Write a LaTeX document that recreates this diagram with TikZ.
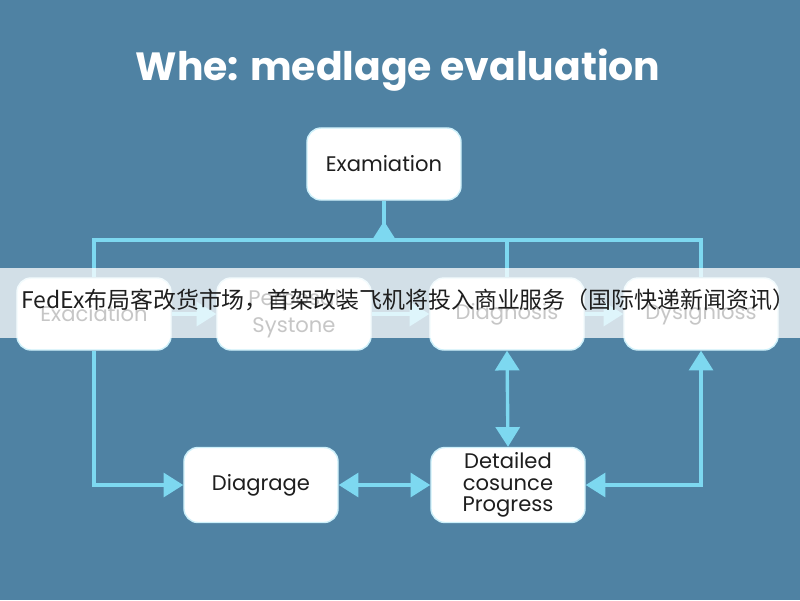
\documentclass[tikz,border=0pt]{standalone}
\usepackage{fontspec}
\setmainfont{Poppins}
\newfontfamily\cjk{Noto Sans CJK SC}
\usetikzlibrary{positioning, arrows.meta, calc}
\definecolor{bgblue}{RGB}{79,130,163}
\definecolor{flowcyan}{RGB}{125,216,240}
\definecolor{boxedge}{RGB}{205,240,250}
\definecolor{inkgrey}{RGB}{30,30,30}
\tikzset{
    stepbox/.style={rectangle, rounded corners=10pt, draw=boxedge, line width=1pt, fill=white, minimum width=3.85cm, minimum height=1.8cm, align=center, font=\fontsize{15}{19}\selectfont, text=inkgrey},
    link/.style={draw=flowcyan, line width=2.4pt},
    arr/.style={link, -{Triangle[length=14pt, width=17pt]}},
    dblarr/.style={link, {Triangle[length=14pt, width=17pt]}-{Triangle[length=14pt, width=17pt]}},
    heading/.style={font=\fontsize{28}{32}\selectfont\bfseries, text=white},
    banner/.style={font=\cjk\fontsize{16.3}{19}\selectfont, text=inkgrey}
}
\begin{document}
\begin{tikzpicture}[x=0.025cm, y=-0.025cm]
    % Background
    \fill[bgblue] (0,0) rectangle (800,600);
    \useasboundingbox (0,0) rectangle (800,600);
    \node[heading] (title) at (398,70) {Whe: medlage evaluation};

    % Boxes
    \node[stepbox] (exam) at (384,164) {Examiation};
    \node[stepbox] (exac) at (94,314) {Exaciation};
    \node[stepbox] (pers) at (294,314) {Perposal\\Systone};
    \node[stepbox] (diag) at (507,314) {Diagnosis};
    \node[stepbox] (dysig) at (701,314) {Dysignioss};
    \node[stepbox, minimum height=1.875cm] (diagr) at (261,485) {Diagrage};
    \node[stepbox, minimum height=1.875cm, font=\fontsize{15}{15.5}\selectfont] (detail) at (508,485) {Detailed\\cosunce\\Progress};

    % Bus line to the top box
    \coordinate (hub) at (384,240);
    \draw[link] (exac.north) -- (exac.north |- hub) -- (dysig.north |- hub) -- (dysig.north);
    \draw[link] (diag.north) -- (diag.north |- hub);
    \draw[link] (hub) -- (exam.south);
    \draw[arr] (hub) -- ++(0,-19);

    % Row arrows
    \draw[arr] (exac.east) -- (pers.west);
    \draw[arr] (pers.east) -- (diag.west);
    \draw[arr] (diag.east) -- (dysig.west);

    % Lower connectors
    \draw[arr] (exac.south) |- (diagr.west);
    \draw[dblarr] (diagr.east) -- (detail.west);
    \draw[dblarr] (diag.south) -- (detail.north);
    \draw[dblarr] (detail.east) -| (dysig.south);

    % Banner
    \fill[white, opacity=0.75] (0,268) rectangle (800,338);
    \node[banner] (news) at (408,300) {FedEx布局客改货市场，首架改装飞机将投入商业服务（国际快递新闻资讯）};
\end{tikzpicture}
\end{document}
